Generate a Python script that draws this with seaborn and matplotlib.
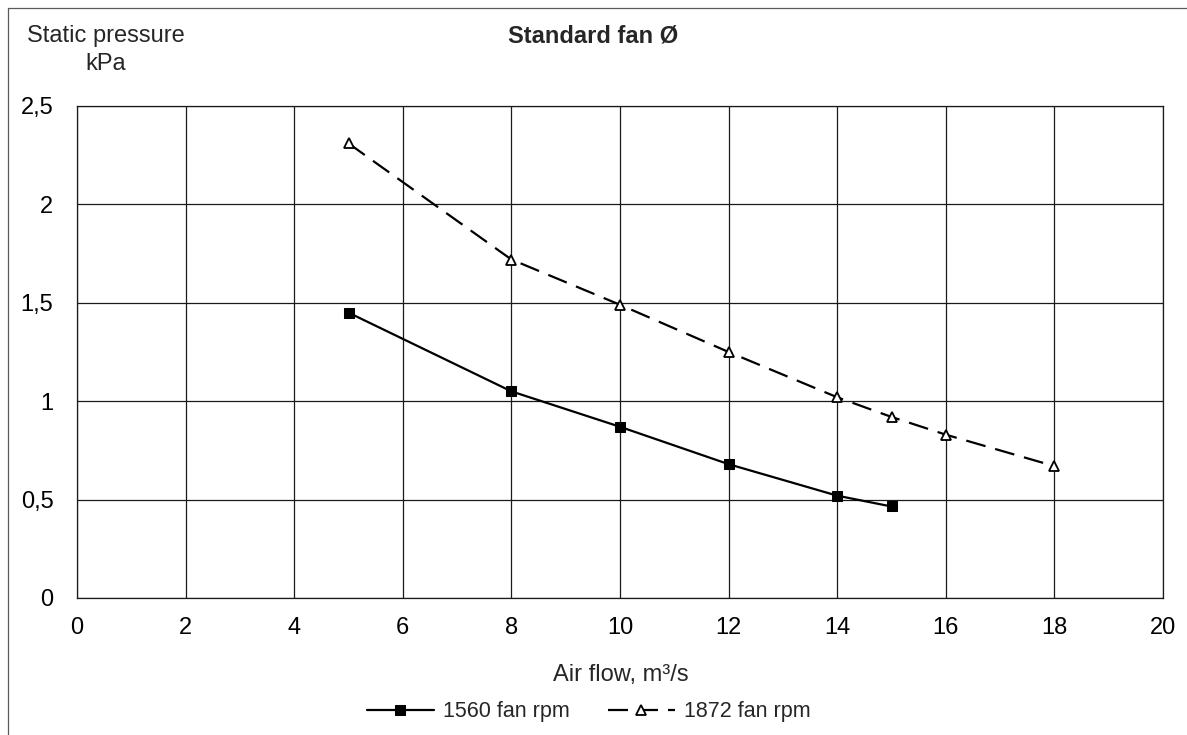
import matplotlib
matplotlib.use("Agg")
import matplotlib.pyplot as plt
from matplotlib.lines import Line2D
import seaborn as sns
import pandas as pd

# ---- data ----
airflow_1560 = [5, 8, 10, 12, 14, 15]
pressure_1560 = [1.45, 1.05, 0.87, 0.68, 0.52, 0.465]
airflow_1872 = [5, 8, 10, 12, 14, 15, 16, 18]
pressure_1872 = [2.31, 1.72, 1.49, 1.25, 1.02, 0.92, 0.83, 0.67]
series_labels = ["1560 fan rpm", "1872 fan rpm"]
x_ticks = [0, 2, 4, 6, 8, 10, 12, 14, 16, 18, 20]
y_ticks = [0, 0.5, 1, 1.5, 2, 2.5]
y_tick_labels = ["0", "0,5", "1", "1,5", "2", "2,5"]
title_text = "Standard fan Ø"
y_label_text = "Static pressure\nkPa"
x_label_text = "Air flow, m³/s"

sns.set_style("white")
plt.rcParams["font.family"] = ["Liberation Sans", "DejaVu Sans"]

W, H = 1187, 735
fig = plt.figure(figsize=(W / 100, H / 100), dpi=100)
ax = fig.add_axes([77 / W, 1 - 598 / H, (1163 - 77) / W, (598 - 106) / H])

df1 = pd.DataFrame({"x": airflow_1560, "y": pressure_1560})
df2 = pd.DataFrame({"x": airflow_1872, "y": pressure_1872})

sns.lineplot(data=df1, x="x", y="y", ax=ax, color="black", lw=1.6,
             marker="s", markersize=7, markerfacecolor="black",
             markeredgecolor="black", label=series_labels[0], zorder=5)
sns.lineplot(data=df2, x="x", y="y", ax=ax, color="black", lw=1.6,
             linestyle=(0, (9, 4.5)), marker="^", markersize=7,
             markerfacecolor="white", markeredgecolor="black",
             markeredgewidth=1.3, label=series_labels[1], zorder=5)

ax.set_xlim(0, 20)
ax.set_ylim(0, 2.5)
ax.set_xticks(x_ticks)
ax.set_xticklabels([str(t) for t in x_ticks])
ax.set_yticks(y_ticks)
ax.set_yticklabels(y_tick_labels)
ax.set_xlabel("")
ax.set_ylabel("")
ax.grid(True, color="#1a1a1a", lw=0.9)
ax.set_axisbelow(True)
for s in ax.spines.values():
    s.set_color("#1a1a1a")
    s.set_linewidth(0.9)
ax.tick_params(axis="both", which="major", direction="out", length=6,
               width=0.9, color="#1a1a1a", labelsize=17, labelcolor="black")
ax.tick_params(axis="x", pad=8)
ax.tick_params(axis="y", pad=11)

fig.text(593 / W, 1 - 36 / H, title_text, ha="center", va="center",
         fontsize=17, fontweight="bold")
fig.text(106 / W, 1 - 50 / H, y_label_text, ha="center", va="center",
         multialignment="center", fontsize=17, linespacing=1.35)
fig.text(621 / W, 1 - 675 / H, x_label_text, ha="center", va="center",
         fontsize=17)

leg = ax.legend(loc="center", bbox_to_anchor=(589 / W, 1 - 712 / H),
                bbox_transform=fig.transFigure, ncol=2, frameon=False,
                fontsize=15.5, handlelength=3.1, handletextpad=0.45,
                columnspacing=1.75, borderpad=0, borderaxespad=0)

# figure border (left and top)
fig.add_artist(Line2D([7.5 / W, 7.5 / W], [0, 1 - 7.5 / H],
                      transform=fig.transFigure, color="#5a5a5a", lw=0.9))
fig.add_artist(Line2D([7.5 / W, 1], [1 - 7.5 / H, 1 - 7.5 / H],
                      transform=fig.transFigure, color="#5a5a5a", lw=0.9))

fig.savefig("out.png", dpi=100, facecolor="white")
